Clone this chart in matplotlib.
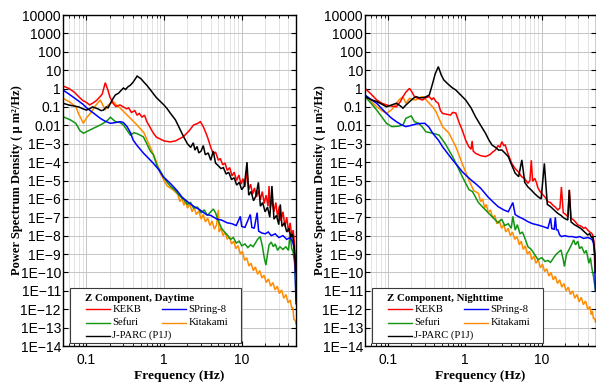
import numpy as np
import matplotlib
matplotlib.use("Agg")
import matplotlib.pyplot as plt
from matplotlib.ticker import FixedLocator, FixedFormatter, LogLocator, NullFormatter
from matplotlib.lines import Line2D
from matplotlib.patches import Rectangle

# ---------------- data (frequency in Hz, PSD as log10 of um^2/Hz) ----------------
series_names = ["KEKB", "SPring-8", "Sefuri", "Kitakami", "J-PARC (P1J)"]
series_colors = ["#ff0000", "#0000ff", "#129612", "#ff8c00", "#000000"]
panel_titles = ["Z Component, Daytime", "Z Component, Nighttime"]

ytick_values = [1e4, 1e3, 1e2, 1e1, 1e0, 1e-1, 1e-2, 1e-3, 1e-4, 1e-5, 1e-6, 1e-7,
                1e-8, 1e-9, 1e-10, 1e-11, 1e-12, 1e-13, 1e-14]
ytick_labels = ["10000", "1000", "100", "10", "1", "0.1", "0.01", "1E\u22123", "1E\u22124",
                "1E\u22125", "1E\u22126", "1E\u22127", "1E\u22128", "1E\u22129", "1E\u221210",
                "1E\u221211", "1E\u221212", "1E\u221213", "1E\u221214"]
xtick_values = [0.1, 1, 10]
xtick_labels = ["0.1", "1", "10"]

# ---- Daytime ----
kekb_day_f = [0.05, 0.06, 0.07, 0.08, 0.09, 0.1, 0.11, 0.12, 0.135, 0.15, 0.16, 0.175, 0.19, 0.2,
              0.22, 0.24, 0.27, 0.3, 0.33, 0.35, 0.38, 0.42, 0.45, 0.48, 0.52, 0.56, 0.6, 0.65,
              0.7, 0.75, 0.8, 0.9, 1.0, 1.2, 1.4, 1.77, 2.1, 2.4, 2.7, 2.93, 3.2, 3.6,
              4.0, 4.3, 4.6, 5.0, 5.3, 5.7, 6.1, 6.5, 7.0, 7.5, 8.0, 8.6, 9.2, 9.8, 10.4, 11.0,
              11.7, 12.3, 13.0, 13.8, 14.6, 15.5, 16.4, 17.4, 18.4, 19.5, 20.6, 21.8, 22.5, 23.2,
              24.5, 26, 27.5, 29, 30.5, 32, 34, 36, 38, 40, 42, 44, 46, 47.5, 48.5, 49.3, 50]
kekb_day_logp = [0.14, 0.0, -0.2, -0.45, -0.65, -0.75, -0.89, -0.8, -0.65, -0.44, -0.3, 0.32, -0.1,
                 -0.44, -0.8, -0.98, -0.89, -1.0, -1.1, -1.05, -1.3, -1.2, -1.45, -1.35, -1.55,
                 -1.45, -1.8, -2.05, -2.3, -2.5, -2.65, -2.75, -2.85, -2.9, -2.85, -2.62, -2.3,
                 -1.98, -1.9, -1.8, -2.07, -2.6,
                 -3.2, -3.55, -3.45, -3.9, -3.8, -4.15, -4.05, -4.45, -4.3, -4.75, -4.55, -5.0,
                 -4.7, -5.2, -4.9, -5.35, -4.5, -5.5, -5.2, -5.75, -5.4, -5.9, -5.55, -6.05, -5.6,
                 -6.25, -5.8, -6.4, -5.3, -6.5, -6.05, -6.7, -6.2, -7.0, -6.4, -7.2, -6.7, -7.5,
                 -7.0, -7.8, -7.3, -8.0, -7.7, -8.3, -9.0, -9.8, -10.4]

spring_day_f = [0.05, 0.062, 0.076, 0.09, 0.102, 0.125, 0.151, 0.175, 0.204, 0.236, 0.274, 0.3,
                0.334, 0.37, 0.40, 0.45, 0.54, 0.65, 0.73, 0.85, 0.98, 1.2, 1.47, 1.7, 2.0,
                2.4, 2.9, 3.5, 4.0, 4.8, 5.5, 6.5, 7.5, 8.5, 9.6, 10, 11, 12.9, 13.5, 14.5, 15.8,
                16.5, 18, 20, 22, 24, 27, 30, 34, 38, 42, 45, 47, 48.5, 49.5, 50]
spring_day_logp = [-0.08, -0.35, -0.62, -0.85, -1.07, -1.35, -1.62, -1.78, -1.89, -1.85, -1.80,
                   -1.85, -2.07, -2.4, -2.8, -3.1, -3.5, -3.85, -4.07, -4.4, -4.8, -5.15, -5.55,
                   -5.9, -6.15, -6.4, -6.6, -6.85, -6.9, -7.1, -7.15, -7.3, -7.35, -7.45, -6.95,
                   -7.5, -7.55, -6.85, -7.55, -7.6, -6.75, -7.75, -7.85, -7.9, -7.8, -8.0, -7.9,
                   -8.1, -8.0, -8.2, -8.1, -8.3, -8.6, -9.5, -11.0, -11.7]

sefuri_day_f = [0.05, 0.062, 0.073, 0.083, 0.092, 0.1, 0.123, 0.14, 0.1655, 0.19, 0.204, 0.236,
                0.27, 0.30, 0.368, 0.41, 0.449, 0.54, 0.6, 0.6655, 0.73, 0.81, 0.9, 0.98, 1.1,
                1.2, 1.4, 1.6, 1.8, 2.0, 2.2, 2.4, 2.7, 3.0, 3.3, 3.6, 4.0, 4.3, 4.6, 5.0, 5.5,
                6.0, 6.5, 7.2, 7.8, 8.5, 9.3, 10, 11, 12, 13, 14, 15, 16, 17.3, 18.5, 19.5, 20.5,
                21.5, 22.5, 24, 25.5, 27, 29, 31, 34, 37, 40, 42, 44, 46, 48, 49.3, 50]
sefuri_day_logp = [-1.53, -1.7, -1.89, -2.3, -2.43, -2.35, -2.16, -2.05, -1.89, -1.7, -1.56, -1.80,
                   -1.85, -1.98, -2.53, -2.4, -2.45, -2.62, -3.0, -3.4, -3.6, -4.2, -4.5, -4.8,
                   -5.1, -5.3, -5.55, -5.85, -6.05, -6.3, -6.2, -6.5, -6.45, -6.75, -6.6, -6.9,
                   -6.7, -6.55, -6.75, -7.2, -7.6, -7.8, -7.95, -8.2, -8.1, -8.4, -8.3, -8.55,
                   -8.45, -8.65, -8.5, -8.6, -8.4, -8.2, -8.05, -8.6, -9.2, -9.6, -9.0, -8.5,
                   -8.35, -8.6, -8.45, -8.8, -8.6, -8.75, -8.6, -8.8, -7.9, -8.7, -8.9, -9.5,
                   -10.5, -11.5]

kita_day_f = [0.05, 0.062, 0.073, 0.08, 0.0915, 0.1, 0.1126, 0.13, 0.151, 0.165, 0.175, 0.19,
              0.2226, 0.25, 0.274, 0.334, 0.449, 0.55, 0.604, 0.7, 0.8, 0.895, 1.0, 1.1, 1.3,
              1.5, 1.6, 1.7, 1.8, 1.9, 2.0, 2.15, 2.3, 2.45, 2.6, 2.8, 3.0, 3.2, 3.4, 3.65, 3.9,
              4.15, 4.45, 4.75, 5.0, 5.1, 5.4, 5.75, 6.1, 6.5, 6.95, 7.4, 7.9, 8.4, 9.0, 9.6,
              10.2, 10.9, 11.6, 12.4, 13.2, 14.1, 15.0, 16.0, 17.1, 18.2, 19.4, 20.7, 22.1, 23.6,
              25.2, 26.9, 28.7, 30.6, 32.6, 34.8, 37.1, 39.6, 42.2, 44.0, 45.5, 47, 48.5, 49.5, 50]
kita_day_logp = [-0.53, -0.75, -0.99, -1.4, -1.89, -1.6, -1.35, -0.95, -0.62, -0.95, -1.17, -0.9,
                 -0.71, -0.95, -1.07, -1.44, -1.98, -2.4, -2.8, -3.4, -4.0, -4.6, -5.0, -5.3,
                 -5.5, -5.75, -6.15, -5.95, -6.35, -6.1, -6.5, -6.3, -6.7, -6.45, -6.85, -6.65,
                 -7.1, -6.85, -7.25, -7.05, -7.45, -7.2, -7.65, -7.4, -6.6, -7.8, -7.6, -8.0, -7.8,
                 -8.2, -8.05, -8.45, -8.3, -8.7, -8.55, -9.0, -8.85, -9.35, -9.2, -9.65, -9.5,
                 -9.9, -9.7, -10.1, -9.9, -10.3, -10.15, -10.55, -10.35, -10.75, -10.55, -10.95,
                 -10.75, -11.15, -10.95, -11.4, -11.2, -11.65, -11.5, -11.95, -11.9, -12.55,
                 -12.6, -12.7, -12.8]

jparc_day_f = [0.05, 0.06, 0.07, 0.08, 0.09, 0.1, 0.11, 0.12, 0.13, 0.14, 0.155, 0.166, 0.18,
               0.19, 0.204, 0.22, 0.236, 0.26, 0.28, 0.3, 0.32, 0.34, 0.37, 0.4, 0.43, 0.45,
               0.47, 0.5, 0.55, 0.6, 0.67, 0.75, 0.8, 0.9, 1.0, 1.1, 1.2, 1.4, 1.62, 1.8, 2.0,
               2.2, 2.38, 2.5, 2.66, 2.8, 3.0, 3.2, 3.4, 3.7, 4.0, 4.3, 4.6, 5.0, 5.4, 5.8, 6.3,
               6.8, 7.4, 8.0, 8.6, 9.3, 10, 10.8, 11.7, 12.3, 13.2, 14.2, 15.2, 16.4, 17.4, 18.6,
               20, 21.5, 23, 24.5, 26, 28, 30, 31.4, 33, 35.5, 38, 40.5, 43, 45, 47, 48.5, 50]
jparc_day_logp = [-0.80, -0.9, -0.95, -1.0, -1.1, -1.17, -1.1, -1.0, -1.05, -1.1, -1.2, -1.17,
                  -1.0, -1.05, -0.8, -0.55, -0.35, -0.25, -0.1, 0.03, -0.05, 0.08, 0.19, 0.35,
                  0.55, 0.68, 0.62, 0.55, 0.35, 0.18, -0.08, -0.35, -0.5, -0.71, -0.9, -1.1,
                  -1.33, -1.7, -2.25, -2.65, -3.0,
                  -3.2, -2.95, -3.35, -3.15, -3.5, -3.4, -3.1, -3.6, -3.5, -3.9, -3.4, -4.05,
                  -4.2, -4.35, -4.3, -4.65, -4.55, -4.95, -4.85, -5.25, -5.1, -5.5, -5.3, -4.0,
                  -5.8, -5.6, -6.1, -5.85, -5.1, -6.4, -6.2, -6.7, -6.45, -7.0, -5.3, -7.1, -6.9,
                  -7.4, -6.3, -7.5, -7.3, -7.8, -7.6, -8.1, -7.9, -8.5, -9.2, -10.0]

# ---- Nighttime ----
kekb_night_f = [0.05, 0.06, 0.071, 0.083, 0.095, 0.11, 0.128, 0.145, 0.156, 0.17, 0.19, 0.205,
                0.22, 0.25, 0.28, 0.31, 0.343, 0.37, 0.39, 0.42, 0.45, 0.48, 0.51, 0.58, 0.65,
                0.69, 0.76, 0.83, 0.92, 1.02, 1.12, 1.2, 1.24, 1.28, 1.37, 1.6, 1.85, 2.1, 2.3,
                2.49, 2.7, 2.85, 3.02, 3.2, 3.34, 3.6, 4.06, 4.5, 5.0, 5.45, 6.0, 6.6, 7.0, 7.3,
                7.6, 8.1, 8.5, 8.9, 9.5, 10.2, 11, 12, 13, 14, 15, 16.2, 17.2, 18, 19, 20.5, 21.8,
                22.8, 24, 26, 28, 29.4, 31, 33, 35, 37, 39.5, 42, 44, 46, 47.5, 49, 50]
kekb_night_logp = [0.01, -0.3, -0.62, -0.8, -0.89, -0.95, -0.99, -0.7, -0.44, -0.2, 0.01, -0.2,
                   -0.44, -0.55, -0.62, -0.5, -0.44, -0.6, -0.5, -0.71, -0.8, -1.2, -1.35, -1.4,
                   -1.44, -1.3, -1.33, -1.8, -2.25, -2.8, -3.16, -3.3, -2.85, -3.4, -3.52, -3.65,
                   -3.7, -3.6, -3.45, -3.34, -3.1, -3.2, -2.89, -3.1, -3.07, -3.5, -4.07, -4.35,
                   -4.55, -4.79, -4.9, -5.15, -5.0, -3.9, -5.05, -4.88, -5.1, -5.4, -5.6, -5.75,
                   -5.9, -6.15, -6.2, -6.35, -6.45, -6.6, -6.5, -5.35, -6.75, -6.85, -6.97, -5.5,
                   -7.05, -7.15, -7.3, -7.42, -7.45, -7.5, -7.6, -7.55, -7.69, -7.8, -7.85, -7.95,
                   -8.3, -9.0, -10.0]

spring_night_f = [0.05, 0.06, 0.071, 0.083, 0.095, 0.11, 0.128, 0.15, 0.17, 0.2, 0.23, 0.26, 0.3,
                  0.34, 0.38, 0.45, 0.51, 0.6, 0.69, 0.8, 0.92, 1.05, 1.2, 1.4, 1.6, 2.0, 2.3,
                  2.7, 3.2, 3.66, 4.2, 4.5, 5.0, 5.8, 6.6, 7.6, 8.9, 10.3, 12, 13, 13.5, 14.5, 15,
                  15.5, 16.2, 17, 18, 20, 22, 25, 28, 31, 35, 40, 45, 47, 48.5, 49.5, 50]
spring_night_logp = [-0.35, -0.6, -0.80, -1.1, -1.35, -1.6, -1.80, -1.98, -2.07, -2.0, -1.93,
                     -1.9, -1.89, -2.1, -2.43, -2.8, -3.16, -3.55, -3.88, -4.2, -4.52, -4.75,
                     -4.97, -5.2, -5.42, -5.9, -6.15, -6.42, -6.6, -6.7, -6.2, -6.85, -6.97, -7.1,
                     -7.24, -7.35, -7.42, -7.5, -7.6, -7.05, -7.62, -7.65, -7.0, -7.68, -7.69,
                     -7.95, -8.05, -8.0, -8.05, -8.05, -8.1, -8.05, -8.15, -8.1, -8.2, -8.4, -9.0,
                     -10.5, -11.0]

sefuri_night_f = [0.05, 0.06, 0.071, 0.083, 0.095, 0.112, 0.135, 0.156, 0.17, 0.185, 0.2, 0.22,
                  0.25, 0.28, 0.31, 0.38, 0.46, 0.55, 0.69, 0.84, 1.02, 1.13, 1.25, 1.5, 1.7,
                  2.0, 2.3, 2.7, 3.0, 3.3, 3.66, 4.0, 4.2, 4.5, 4.8, 5.2, 5.6, 6.1, 6.6, 7.3, 8.0,
                  8.9, 10, 11, 12, 13, 14.6, 15.5, 16.5, 17.8, 19, 19.7, 21, 22.5, 24.3, 26, 27.5,
                  29.4, 31, 33, 35.9, 38, 41, 43, 45, 47, 48.5, 50]
sefuri_night_logp = [-0.44, -0.8, -1.17, -1.55, -1.89, -2.07, -2.05, -1.98, -1.62, -1.55, -1.49,
                     -1.80, -1.89, -2.1, -2.35, -2.43, -2.53, -2.98, -3.7, -4.43, -5.15, -5.5,
                     -5.6, -6.2, -6.45, -6.75, -7.0, -7.3, -7.1, -7.45, -7.35, -7.6, -6.95, -7.7,
                     -7.4, -7.9, -7.8, -8.2, -8.6, -8.75, -9.0, -9.3, -9.2, -9.4, -9.35, -9.45,
                     -9.14, -9.0, -8.9, -8.78, -9.3, -9.68, -9.0, -8.78, -8.5, -8.23, -8.5, -8.3,
                     -8.7, -8.6, -8.96, -8.8, -9.5, -9.2, -9.8, -10.2, -10.6, -11.0]

kita_night_f = [0.05, 0.06, 0.071, 0.083, 0.095, 0.11, 0.125, 0.138, 0.156, 0.17, 0.19, 0.21,
                0.23, 0.255, 0.28, 0.31, 0.343, 0.38, 0.42, 0.51, 0.62, 0.76, 0.92, 1.12, 1.3,
                1.5, 1.6, 1.7, 1.8, 1.9, 2.0, 2.15, 2.3, 2.45, 2.6, 2.8, 3.0, 3.2, 3.4, 3.65, 3.9,
                4.15, 4.45, 4.75, 5.1, 5.4, 5.75, 6.1, 6.5, 6.95, 7.4, 7.9, 8.4, 9.0, 9.6, 10.2,
                10.9, 11.6, 12.4, 13.2, 14.1, 15.0, 16.0, 17.1, 18.2, 19.4, 20.7, 22.1, 23.6, 25.2,
                26.9, 28.7, 30.6, 32.6, 34.8, 37.1, 39.6, 42.2, 44.0, 45.5, 47, 48.5, 49.5, 50]
kita_night_logp = [-0.35, -0.7, -0.99, -1.2, -1.35, -1.17, -0.9, -0.62, -0.44, -0.8, -0.53, -0.6,
                   -0.62, -0.5, -0.44, -0.6, -0.8, -1.0, -1.26, -2.07, -2.43, -3.16, -4.07, -4.97,
                   -5.55, -5.7, -6.15, -6.0, -6.5, -6.3, -6.75, -6.6, -7.05, -6.9, -7.35, -7.2,
                   -7.6, -7.4, -7.8, -7.6, -8.0, -7.8, -8.2, -8.05, -8.5, -8.3, -8.75, -8.55, -9.0,
                   -8.85, -9.3, -9.1, -9.5, -9.3, -9.75, -9.55, -9.95, -9.8, -10.2, -10.0, -10.4,
                   -10.2, -10.6, -10.4, -10.8, -10.6, -11.0, -10.8, -11.2, -11.0, -11.4, -11.2,
                   -11.6, -11.35, -11.75, -11.55, -12.0, -11.85, -12.3, -12.1, -12.5, -12.5,
                   -12.6, -12.7]

jparc_night_f = [0.05, 0.06, 0.071, 0.083, 0.095, 0.11, 0.128, 0.145, 0.156, 0.17, 0.19, 0.21,
                 0.23, 0.255, 0.28, 0.31, 0.343, 0.38, 0.41, 0.45, 0.49, 0.53, 0.6, 0.68, 0.76,
                 0.88, 1.02, 1.2, 1.37, 1.6, 1.85, 2.05, 2.25, 2.5, 2.75, 3.02, 3.3, 3.66, 4.0,
                 4.5, 5.0, 5.5, 6.0, 6.6, 7.3, 8.0, 8.9, 9.8, 10.8, 11.8, 13, 14.4, 16.2, 17.8,
                 19.5, 21.8, 22.8, 24, 26.5, 29.4, 32, 35, 39.5, 42, 44.5, 46, 47.5, 49, 50]
jparc_night_logp = [-0.44, -0.6, -0.71, -0.85, -0.99, -0.9, -0.80, -0.95, -1.07, -0.9, -0.71,
                    -0.55, -0.44, -0.5, -0.5, -0.45, -0.35, 0.29, 0.8, 1.19, 0.75, 0.47, 0.25,
                    0.05, -0.08, -0.35, -0.62, -1.05, -1.53, -2.0, -2.43, -2.8, -3.07, -3.2,
                    -3.35, -3.34, -3.5, -3.7, -4.1, -4.6, -4.79, -3.88, -5.1, -5.35, -5.52, -5.7,
                    -5.88, -6.0, -4.07, -6.3, -6.42, -6.6, -6.79, -6.9, -7.05, -7.15, -5.52, -7.25,
                    -7.4, -7.51, -7.6, -7.75, -7.96, -7.9, -8.1, -8.05, -8.4, -9.0, -10.0]

day_f = [kekb_day_f, spring_day_f, sefuri_day_f, kita_day_f, jparc_day_f]
day_logp = [kekb_day_logp, spring_day_logp, sefuri_day_logp, kita_day_logp, jparc_day_logp]
night_f = [kekb_night_f, spring_night_f, sefuri_night_f, kita_night_f, jparc_night_f]
night_logp = [kekb_night_logp, spring_night_logp, sefuri_night_logp, kita_night_logp,
              jparc_night_logp]

# ---------------- figure ----------------
W, H = 596, 387
fig = plt.figure(figsize=(W / 100, H / 100), dpi=100)

axes_px = [(63, 15, 296, 346), (365, 15, 595.5, 346)]  # left, top, right, bottom
tick_family = ["Liberation Sans", "DejaVu Sans"]
serif = ["Liberation Serif", "DejaVu Serif"]
draw_order = [3, 2, 1, 0, 4]

for p, (l, t, r, b) in enumerate(axes_px):
    ax = fig.add_axes([l / W, 1 - b / H, (r - l) / W, (b - t) / H])
    fl = day_f if p == 0 else night_f
    lp = day_logp if p == 0 else night_logp
    for i in draw_order:
        ax.plot(fl[i], 10.0 ** np.array(lp[i]), color=series_colors[i], lw=1.1,
                solid_joinstyle="miter")
    ax.set_xscale("log")
    ax.set_yscale("log")
    ax.set_xlim(0.05, 50)
    ax.set_ylim(1e-14, 1e4)

    ax.yaxis.set_major_locator(FixedLocator(ytick_values))
    ax.yaxis.set_major_formatter(FixedFormatter(ytick_labels))
    ax.yaxis.set_minor_locator(FixedLocator([]))
    ax.xaxis.set_major_locator(FixedLocator(xtick_values))
    ax.xaxis.set_major_formatter(FixedFormatter(xtick_labels))
    ax.xaxis.set_minor_locator(LogLocator(base=10, subs=np.arange(2, 10), numticks=20))
    ax.xaxis.set_minor_formatter(NullFormatter())

    ax.grid(True, which="major", axis="both", color="#c4c4c4", lw=0.7)
    ax.grid(True, which="minor", axis="x", color="#dedede", lw=0.6)
    ax.set_axisbelow(True)
    ax.tick_params(which="both", direction="in", top=True, right=True, color="black")
    ax.tick_params(which="major", length=3.5, width=0.8)
    ax.tick_params(which="minor", length=2, width=0.6)
    ax.tick_params(axis="y", pad=1.5)
    ax.tick_params(axis="x", pad=5)
    for lab in ax.get_xticklabels() + ax.get_yticklabels():
        lab.set_fontfamily(tick_family)
        lab.set_fontsize(10)
    for s in ax.spines.values():
        s.set_linewidth(1.0)

    ax.set_xlabel("Frequency (Hz)", family=serif, fontweight="bold", fontsize=9.7)
    ax.xaxis.set_label_coords(0.5, -0.073)
    ax.set_ylabel("Power Spectrum Density ( \u03bc m\u00b2/Hz)", family=serif,
                  fontweight="bold", fontsize=9.0)
    ax.yaxis.set_label_coords(-0.17, 0.5)

    # ---- legend box (drawn by hand, in figure pixels) ----
    dx = l - 63
    def fx(px):
        return (px + dx) / W
    def fy(py):
        return 1 - py / H
    box = Rectangle((fx(70), fy(342.7)), (240.7 - 70) / W, (342.7 - 288.3) / H,
                    transform=fig.transFigure, facecolor="white", edgecolor="#3a3a3a",
                    lw=0.8, zorder=5)
    fig.add_artist(box)
    fig.text(fx(85), fy(298.5), panel_titles[p], family=serif, fontweight="bold",
             fontsize=7.8, va="center", ha="left", zorder=6)
    rows = [(0, 86, 309), (2, 86, 322.5), (4, 86, 335.5), (1, 162, 309), (3, 162, 322.5)]
    for i, x0, yy in rows:
        fig.add_artist(Line2D([fx(x0), fx(x0 + 24)], [fy(yy), fy(yy)],
                              transform=fig.transFigure, color=series_colors[i], lw=1.0,
                              zorder=6))
        fig.text(fx(x0 + 26.5), fy(yy), series_names[i], family=serif, fontsize=7.7,
                 va="center", ha="left", zorder=6)

fig.savefig("out.png", dpi=100)
